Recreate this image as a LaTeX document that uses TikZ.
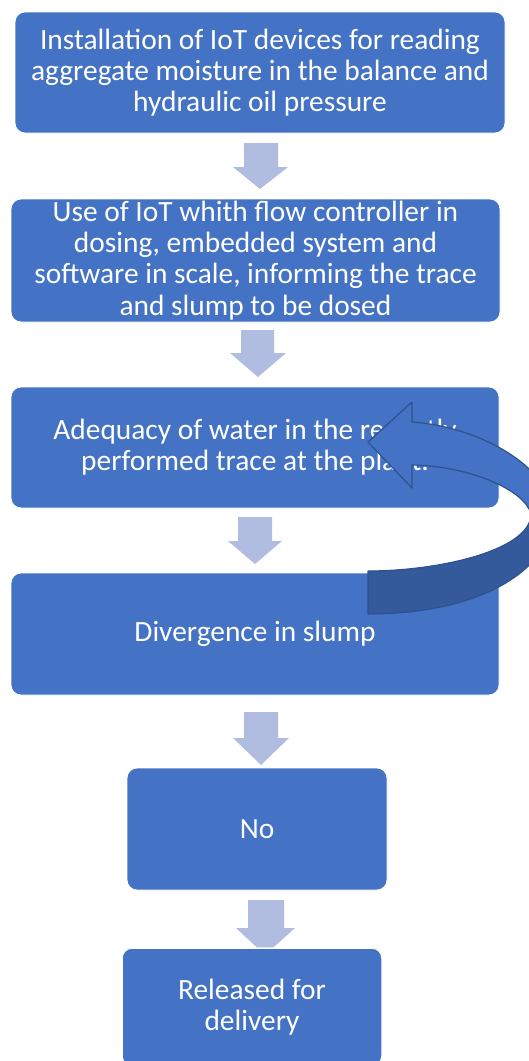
\documentclass[tikz,border=0pt]{standalone}
\usepackage{fontspec}
\setmainfont{Carlito}
\definecolor{boxblue}{RGB}{68,114,196}
\definecolor{arrowlight}{RGB}{176,189,224}
\definecolor{curvedark}{RGB}{52,90,155}
\definecolor{curveline}{RGB}{47,82,143}
\tikzset{
  box/.style={draw=white, line width=0.8pt, fill=boxblue, rounded corners=10pt, inner sep=0pt},
  boxtext/.style={text=white, align=center, inner sep=0pt, font=\fontsize{29.4}{31.3}\selectfont},
  blockarrow/.style={fill=arrowlight, draw=none},
}
\begin{document}
\begin{tikzpicture}[x=1pt, y=-1pt]
\useasboundingbox (0,0) rectangle (529,1061);
\clip (0,0) rectangle (529,1061);
% boxes
\node[box, minimum width=490pt, minimum height=121pt] (b1) at (260,72.5) {};
\node[box, minimum width=489pt, minimum height=123pt] (b2) at (255.5,260.5) {};
\node[box, minimum width=488pt, minimum height=121pt] (b3) at (255,447.5) {};
\node[box, minimum width=488pt, minimum height=122pt] (b4) at (255,634) {};
\node[box, minimum width=260pt, minimum height=122pt] (b5) at (257,829) {};
% texts
\node[boxtext] (t1) at (b1.center) {Installation of IoT devices for reading\\aggregate moisture in the balance and\\hydraulic oil pressure};
\node[boxtext] (t2) at (b2.center) {Use of IoT whith flow controller in\\dosing, embedded system and\\software in scale, informing the trace\\and slump to be dosed};
\node[boxtext] (t3) at (b3.center) {Adequacy of water in the recently\\performed trace at the plant.};
\node[boxtext] (t4) at (b4.center) {Divergence in slump};
\node[boxtext] (t5) at (b5.center) {No};
% block arrows
\fill[blockarrow] (244,143) -- (278,143) -- (278,167) -- (288,167) -- (260,189) -- (233,167) -- (244,167) -- cycle;
\fill[blockarrow] (241,330) -- (274,330) -- (274,353) -- (286,353) -- (258,377) -- (230,353) -- (241,353) -- cycle;
\fill[blockarrow] (238,517) -- (272,517) -- (272,541) -- (282,541) -- (255,564) -- (228,541) -- (238,541) -- cycle;
\fill[blockarrow] (244,712) -- (278,712) -- (278,738) -- (289,738) -- (261,765) -- (233,738) -- (244,738) -- cycle;
\fill[blockarrow] (248,900) -- (284,900) -- (284,928) -- (295,928) -- (265,955) -- (236,928) -- (248,928) -- cycle;
% last box over the last arrow
\node[box, line width=1.5pt, minimum width=260pt, minimum height=118pt] (b6) at (252,1007) {};
\node[boxtext] (t6) at (b6.center) {Released for\\delivery};
% curved arrow
\fill[boxblue] (368,442) -- (412,402) -- (412,422)
  .. controls (475,426) and (552,465) .. (552,515)
  -- (531,514)
  .. controls (525,490) and (470,466) .. (412,465)
  -- (412,488) -- cycle;
\fill[curvedark] (552,515)
  .. controls (552,570) and (480,614) .. (368,614)
  -- (368,571)
  .. controls (440,571) and (531,550) .. (531,514) -- cycle;
\draw[curveline, line width=1.2pt, line join=round] (368,442) -- (412,402) -- (412,422)
  .. controls (475,426) and (552,465) .. (552,515)
  .. controls (552,570) and (480,614) .. (368,614)
  -- (368,571)
  .. controls (440,571) and (531,550) .. (531,514)
  .. controls (525,490) and (470,466) .. (412,465)
  -- (412,488) -- cycle;
\end{tikzpicture}
\end{document}
